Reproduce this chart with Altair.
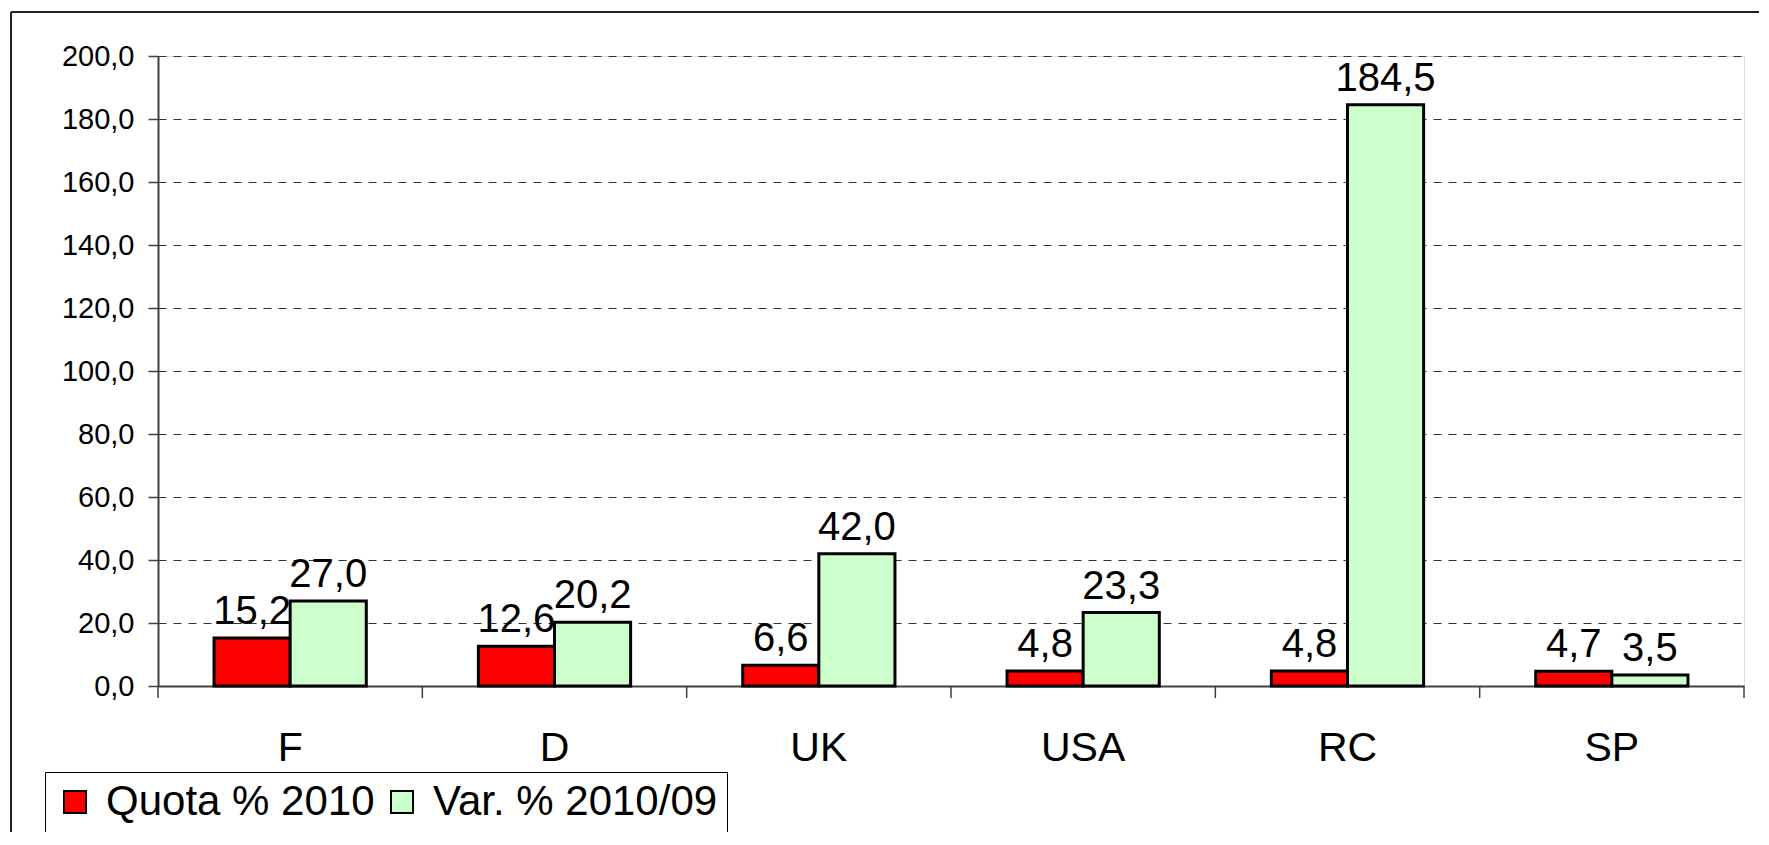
import altair as alt
import pandas as pd

countries = ["F", "D", "UK", "USA", "RC", "SP"]
quota_2010 = [15.2, 12.6, 6.6, 4.8, 4.8, 4.7]
var_2010_09 = [27.0, 20.2, 42.0, 23.3, 184.5, 3.5]
series = ["Quota % 2010", "Var. % 2010/09"]
series_colors = ["#FF0000", "#CCFFCC"]
y_ticks = [0, 20, 40, 60, 80, 100, 120, 140, 160, 180, 200]
band_edges = [0, 1, 2, 3, 4, 5, 6]

rows = []
for i, c in enumerate(countries):
    rows.append({"country": c, "series": series[0], "value": quota_2010[i]})
    rows.append({"country": c, "series": series[1], "value": var_2010_09[i]})
df = pd.DataFrame(rows)

FONT = "Liberation Sans, Arial, sans-serif"
W, H = 1586, 630
LBL = "replace(format(datum.value, '.1f'), '.', ',')"

xscale = alt.Scale(domain=countries, paddingInner=0.424, paddingOuter=0.212)
yscale = alt.Scale(domain=[0, 200], nice=False)
offscale = alt.Scale(domain=series)

xaxis = alt.Axis(title=None, labelAngle=0, ticks=False, tickSize=0, labelFontSize=41,
                 labelPadding=42, labelFont=FONT, labelColor="black",
                 domainColor="#404040", domainWidth=2, grid=False)
yaxis = alt.Axis(title=None, values=y_ticks, labelExpr=LBL, labelFontSize=29,
                 labelFont=FONT, labelColor="black", labelPadding=14,
                 tickSize=10, tickColor="#404040", tickWidth=1.5,
                 domainColor="#404040", domainWidth=2,
                 grid=True, gridDash=[8, 7], gridColor="#333333", gridWidth=1)

base = alt.Chart(df)

bars = base.mark_bar(stroke="black", strokeWidth=3).encode(
    x=alt.X("country:N", scale=xscale, sort=countries, axis=xaxis),
    xOffset=alt.XOffset("series:N", scale=offscale, sort=series),
    y=alt.Y("value:Q", scale=yscale, axis=yaxis),
    fill=alt.Fill("series:N", scale=alt.Scale(domain=series, range=series_colors),
                  legend=alt.Legend(title=None, orient="none", legendX=-113, legendY=716,
                                    direction="horizontal", strokeColor="black",
                                    fillColor="white", padding=9, symbolType="square",
                                    symbolSize=484, symbolStrokeColor="black",
                                    symbolStrokeWidth=2, labelFontSize=42, labelFont=FONT,
                                    labelColor="black", labelLimit=0, labelOffset=10,
                                    columnPadding=6)),
)

labels = base.transform_calculate(lbl=LBL).mark_text(
    baseline="alphabetic", dy=-14, fontSize=40, font=FONT, color="black"
).encode(
    x=alt.X("country:N", scale=xscale, sort=countries, axis=xaxis),
    xOffset=alt.XOffset("series:N", scale=offscale, sort=series),
    y=alt.Y("value:Q", scale=yscale, axis=yaxis),
    text="lbl:N",
)

edges = alt.Chart(pd.DataFrame({"b": band_edges})).mark_rule(
    color="#404040", strokeWidth=1.5
).encode(
    x=alt.X("b:Q", scale=alt.Scale(domain=[0, 6], nice=False, zero=False), axis=None),
    y=alt.value(H),
    y2=alt.value(H + 12),
)

one = pd.DataFrame({"k": [0]})
border_top = alt.Chart(one).mark_rule(color="#222222", strokeWidth=2).encode(
    x=alt.value(-147), x2=alt.value(W + 30), y=alt.value(-44)
)
border_left = alt.Chart(one).mark_rule(color="#222222", strokeWidth=2).encode(
    x=alt.value(-147), y=alt.value(-44), y2=alt.value(H + 220)
)

chart = alt.layer(
    alt.layer(bars, labels), edges, border_top, border_left
).resolve_scale(x="independent").properties(
    width=W, height=H,
    padding={"left": 150, "top": 48, "right": 15, "bottom": 146},
    autosize=alt.AutoSizeParams(type="none"),
).configure_view(stroke="#808080", strokeWidth=2).configure(background="white")

chart.save("out.html", embed_options={"renderer": "svg", "actions": False})
